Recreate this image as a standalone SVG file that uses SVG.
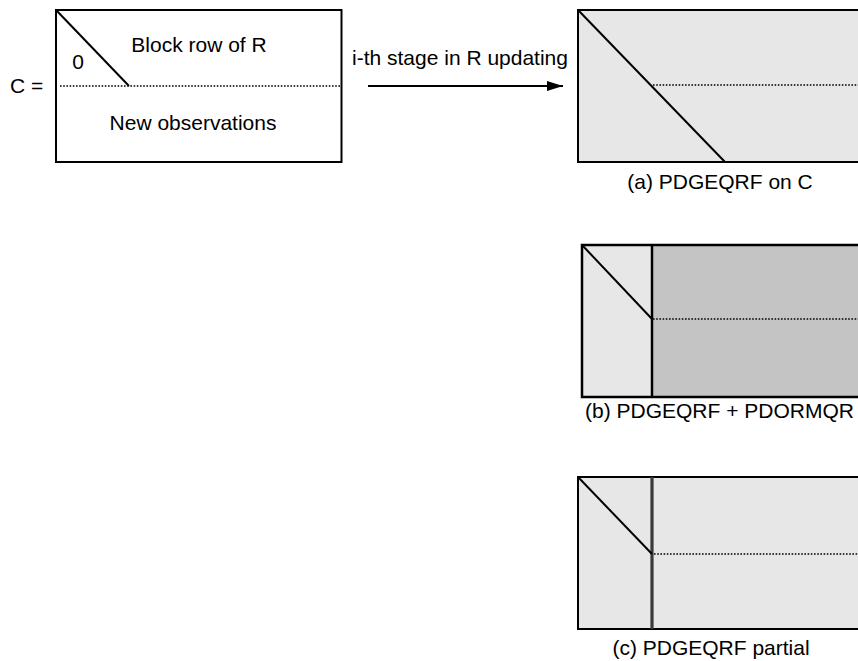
<svg xmlns="http://www.w3.org/2000/svg" width="858" height="661" viewBox="0 0 858 661">
<style>
text{font-family:"Liberation Sans",Arial,sans-serif;font-size:21px;fill:#000}
.box{stroke:#000;stroke-width:2}
.diag{stroke:#000;stroke-width:2;fill:none}
.dot{stroke:#000;stroke-width:1.5;stroke-dasharray:1.6 1.6;fill:none}
.light{fill:#e7e7e7}
.dark{fill:#c4c4c4}
</style>
<defs>
<marker id="ah" viewBox="0 0 16 10" refX="16" refY="5" markerWidth="16" markerHeight="10" markerUnits="userSpaceOnUse" orient="auto">
<path d="M0,0 L16,5 L0,10 Z" fill="#000"/>
</marker>
</defs>
<rect width="858" height="661" fill="#fff"/>
<g id="matrixC">
<text x="10" y="93">C =</text>
<rect class="box" x="56" y="10" width="285.5" height="152" fill="#fff"/>
<line class="diag" x1="57" y1="11" x2="129" y2="86"/>
<line class="dot" x1="60" y1="86" x2="340" y2="86"/>
<text x="78" y="69" text-anchor="middle">0</text>
<text x="199" y="52" text-anchor="middle">Block row of R</text>
<text x="193" y="130" text-anchor="middle">New observations</text>
</g>
<g id="connectors">
<line x1="368" y1="86" x2="563" y2="86" stroke="#000" stroke-width="2" marker-end="url(#ah)"/>
<text x="352" y="65">i-th stage in R updating</text>
</g>
<g id="panelA">
<rect class="box light" x="578" y="10" width="290" height="152"/>
<line class="diag" x1="579" y1="11" x2="725" y2="162"/>
<line class="dot" x1="653" y1="85" x2="858" y2="85"/>
<text x="720" y="189" text-anchor="middle">(a) PDGEQRF on C</text>
</g>
<g id="panelB">
<rect class="dark" x="652" y="245" width="216" height="152"/>
<rect class="light" x="582" y="245" width="70" height="152"/>
<rect x="582" y="245" width="286" height="152" fill="none" stroke="#000" stroke-width="2.5"/>
<line x1="652" y1="245" x2="652" y2="397" stroke="#000" stroke-width="2.5"/>
<line class="diag" x1="583" y1="246" x2="652" y2="319"/>
<line class="dot" x1="653" y1="319" x2="858" y2="319"/>
<text x="585" y="418">(b) PDGEQRF + PDORMQR</text>
</g>
<g id="panelC">
<rect class="box light" x="578" y="477" width="290" height="152"/>
<line x1="652" y1="477" x2="652" y2="629" stroke="#3a3a3a" stroke-width="3.2"/>
<line class="diag" x1="579" y1="478" x2="652" y2="554"/>
<line class="dot" x1="654" y1="554" x2="858" y2="554"/>
<text x="711" y="655" text-anchor="middle">(c) PDGEQRF partial</text>
</g>
</svg>
